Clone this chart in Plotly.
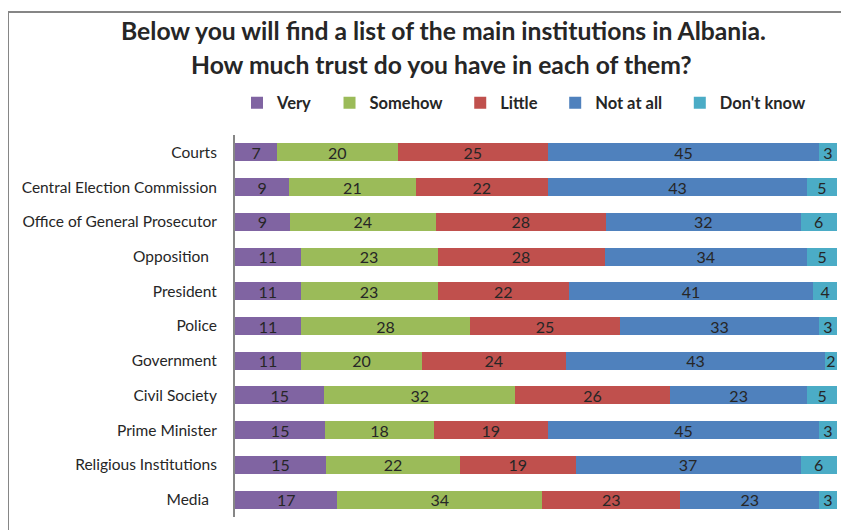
import plotly.graph_objects as go

categories = ["Courts", "Central Election Commission", "Office of General Prosecutor",
              "Opposition\u00a0\u00a0", "President", "Police", "Government", "Civil Society",
              "Prime Minister", "Religious Institutions", "Media\u00a0\u00a0"]
very = [7, 9, 9, 11, 11, 11, 11, 15, 15, 15, 17]
somehow = [20, 21, 24, 23, 23, 28, 20, 32, 18, 22, 34]
little = [25, 22, 28, 28, 22, 25, 24, 26, 19, 19, 23]
not_at_all = [45, 43, 32, 34, 41, 33, 43, 23, 45, 37, 23]
dont_know = [3, 5, 6, 5, 4, 3, 2, 5, 3, 6, 3]

series = [("Very", very, "#8064A2"), ("Somehow", somehow, "#9BBB59"),
          ("Little", little, "#C0504D"), ("Not at all", not_at_all, "#4F81BD"),
          ("Don't know", dont_know, "#4BACC6")]

FONT = "Lato"
OFF = 8  # page body margin
W, H = 849, 530
L, R, T, B = 235 - OFF, 12 + OFF, 135 - OFF, 13 + OFF
PAD = "\u00a0" * 3
fig = go.Figure()
for i, (name, vals, color) in enumerate(series):
    label = "<b>" + name + "</b>" + (PAD if i < len(series) - 1 else "")
    fig.add_trace(go.Bar(
        y=categories, x=vals, name=label, orientation="h",
        marker=dict(color=color, line=dict(width=0)),
        text=vals, texttemplate="%{text}", textposition="inside",
        insidetextanchor="middle", textangle=0,
        textfont=dict(family=FONT, size=16, color="#262626"),
        constraintext="none",
    ))

pw = W - L - R
ph = H - T - B
fig.update_layout(
    barmode="stack", barnorm="percent", bargap=0.48,
    width=W, height=H,
    margin=dict(l=L, r=R, t=T, b=B, autoexpand=False),
    paper_bgcolor="white", plot_bgcolor="white",
    showlegend=True,
    legend=dict(orientation="h", xref="container", yref="container",
                x=(237 - OFF) / W, xanchor="left", y=1 - (103 - OFF) / H, yanchor="middle",
                font=dict(family=FONT, size=16.5, color="#262626"),
                traceorder="normal", itemclick=False, itemwidth=30,
                bgcolor="rgba(0,0,0,0)"),
    uniformtext=dict(mode=False),
    font=dict(family=FONT),
)
fig.add_annotation(text="<b>Below you will find a list of the main institutions in Albania.</b>",
                   xref="paper", yref="paper", x=(443 - OFF - L) / pw, y=1 + (T - (30 - OFF)) / ph,
                   xanchor="center", yanchor="middle", showarrow=False,
                   font=dict(family=FONT, size=24.7, color="#262626"))
fig.add_annotation(text="<b>How much trust do you have in each of them?</b>",
                   xref="paper", yref="paper", x=(441 - OFF - L) / pw, y=1 + (T - (65 - OFF)) / ph,
                   xanchor="center", yanchor="middle", showarrow=False,
                   font=dict(family=FONT, size=24.7, color="#262626"))
fig.update_xaxes(visible=False, range=[0, 100], fixedrange=True, automargin=False)
fig.update_yaxes(autorange="reversed", showline=True, linecolor="#868686", linewidth=2,
                 ticks="", showgrid=False, ticklabelstandoff=13, automargin=False,
                 tickfont=dict(family=FONT, size=15.5, color="#262626"))
fig.add_shape(type="rect", xref="paper", yref="paper",
              x0=(8 - OFF - L) / pw, x1=1.2, y0=-0.2, y1=1 + (T - (12 - OFF)) / ph,
              line=dict(color="#868686", width=2), fillcolor="rgba(0,0,0,0)", layer="below")
fig.write_html("out.html", config={"displayModeBar": False})
